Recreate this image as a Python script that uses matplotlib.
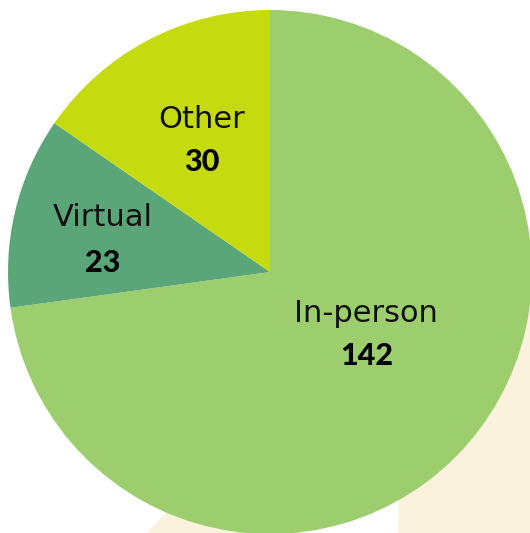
import matplotlib
matplotlib.use("Agg")
import matplotlib.pyplot as plt
from matplotlib.patches import Polygon

# data
labels = ["In-person", "Virtual", "Other"]
counts = [142, 23, 30]
colors = ["#9dce6e", "#5aa678", "#c5db10"]

# label positions in pixels (x, y from top)
name_pos = [(366, 313), (103, 218), (202, 120)]
num_pos = [(367, 356), (103, 263), (202, 162)]

W, H = 530, 533
fig = plt.figure(figsize=(W / 100, H / 100), dpi=100)
ax = fig.add_axes([0, 0, 1, 1])

# beige background shapes peeking out behind the pie
beige = "#faf2dc"
ax.add_patch(Polygon([(147, 0), (300, 153), (300, 0)], closed=True, color=beige, zorder=0))
ax.add_patch(Polygon([(399, 0), (402, 220), (540, 220), (540, 0)], closed=True, color=beige, zorder=0))

cx, cy, r = 270, H - 272, 262
ax.pie(counts, colors=colors, startangle=90, counterclock=False,
       center=(cx, cy), radius=r, frame=True,
       wedgeprops=dict(linewidth=0))
ax.set_xlim(0, W)
ax.set_ylim(0, H)
ax.set_aspect("equal")
ax.axis("off")

for lab, n, p1, p2 in zip(labels, counts, name_pos, num_pos):
    ax.text(p1[0], H - p1[1], lab, ha="center", va="center",
            fontsize=22, family="DejaVu Sans", color="#111111")
    ax.text(p2[0], H - p2[1], str(n), ha="center", va="center",
            fontsize=22, fontweight="black", family="Lato", color="#000000")

fig.savefig("out.png", dpi=100)
